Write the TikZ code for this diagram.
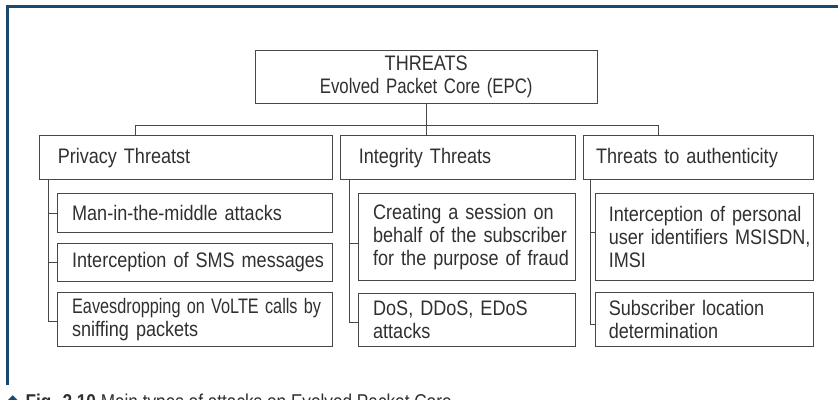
\documentclass[tikz,border=0pt]{standalone}
\usepackage{fontspec}
\setmainfont[FakeStretch=0.86]{Liberation Sans}
\newfontfamily\symfont{DejaVu Sans}
\usetikzlibrary{calc}
\definecolor{frameblue}{HTML}{1B4A6E}
\definecolor{ink}{HTML}{303030}
\definecolor{rule}{HTML}{474747}
\begin{document}
\begin{tikzpicture}[x=1pt,y=-1pt,
  font=\fontsize{21}{23}\selectfont,
  box/.style={draw=rule, line width=0.9pt, text=ink, anchor=north west,
    align=left, inner ysep=0pt},
  link/.style={draw=rule, line width=0.9pt},
  frame/.style={draw=frameblue, line width=2.6pt}]
\useasboundingbox (0,0) rectangle (838,399);

% page frame (top and left rules)
\draw[frame] (7.3,385) -- (7.3,6.4) -- (838,6.4);

% root
\node[box, align=center, text width=342.5pt, inner xsep=0pt, minimum height=53.5pt]
  (epc) at (254.5,49.5) {THREATS\\\scalebox{0.93}[1]{Evolved Packet Core (EPC)}};

% categories
\node[box, text width=256.4pt, inner xsep=18.3pt, minimum height=43.7pt]
  (priv) at (39,135.3) {Privacy Threatst};
\node[box, text width=198.7pt, inner xsep=18.3pt, minimum height=43.7pt]
  (integ) at (340,135.3) {Integrity Threats};
\node[box, text width=205.2pt, inner xsep=12.4pt, minimum height=43.7pt]
  (auth) at (583.3,135.3) {Threats to authenticity};

% privacy threats
\node[box, text width=245.9pt, inner xsep=14.4pt, minimum height=38.4pt]
  (p1) at (57.3,193.3) {\mbox{Man-in-the-middle attacks}};
\node[box, text width=245.9pt, inner xsep=14.4pt, minimum height=38.3pt]
  (p2) at (57.3,242.7) {\mbox{Interception of SMS messages}};
\node[box, text width=245.9pt, inner xsep=14.4pt, minimum height=53.7pt]
  (p3) at (57.3,292.3) {\mbox{\scalebox{0.9}[1]{Eavesdropping on VoLTE calls by}}\\\mbox{sniffing packets}};

% integrity threats
\node[box, text width=188.2pt, inner xsep=14.4pt, minimum height=87pt]
  (i1) at (358.3,193.3) {\mbox{Creating a session on}\\\mbox{behalf of the subscriber}\\\mbox{for the purpose of fraud}};
\node[box, text width=188.2pt, inner xsep=14.4pt, minimum height=53pt]
  (i2) at (358.3,292.5) {\mbox{DoS, DDoS, EDoS}\\\mbox{attacks}};

% authenticity threats
\node[box, text width=191.7pt, inner xsep=13.3pt, minimum height=87pt]
  (a1) at (595,193.3) {\mbox{Interception of personal}\\\mbox{user identifiers MSISDN,}\\\mbox{IMSI}};
\node[box, text width=191.7pt, inner xsep=13.3pt, minimum height=54pt]
  (a2) at (595,291.7) {\mbox{Subscriber location}\\\mbox{determination}};

% root to categories
\coordinate (busL) at (135.7,125);
\coordinate (busR) at (658.7,125);
\draw[link] (epc.south) -- (epc.south |- integ.north);
\draw[link] (busL |- priv.north) -- (busL) -- (busR) -- (busR |- auth.north);

% category trunks
\coordinate (pt) at ([xshift=9.3pt]priv.south west);
\coordinate (it) at ([xshift=9pt]integ.south west);
\coordinate (at) at ([xshift=6.7pt]auth.south west);

\draw[link] (pt) |- ([yshift=-1.5pt]p3.west);
\draw[link] (p1.west) -- (p1.west -| pt);
\draw[link] (p2.west) -- (p2.west -| pt);

\draw[link] (it) |- ([yshift=-2.7pt]i2.west);
\draw[link] ([yshift=-6.5pt]i1.west) -- ([yshift=-6.5pt]i1.west -| it);

\draw[link] (at) |- ([yshift=-5.3pt]a2.west);
\draw[link] ([yshift=5.2pt]a1.west) -- ([yshift=5.2pt]a1.west -| at);

% caption, running on past the lower edge
\node[anchor=base west, inner sep=0pt, font=\fontsize{20}{22}\selectfont, text=ink]
  (cap) at (5,408) {{\symfont\color{frameblue}\char"25C6}\hspace{5pt}\textbf{Fig. 2.10} Main types of attacks on Evolved Packet Core};
\end{tikzpicture}
\end{document}
